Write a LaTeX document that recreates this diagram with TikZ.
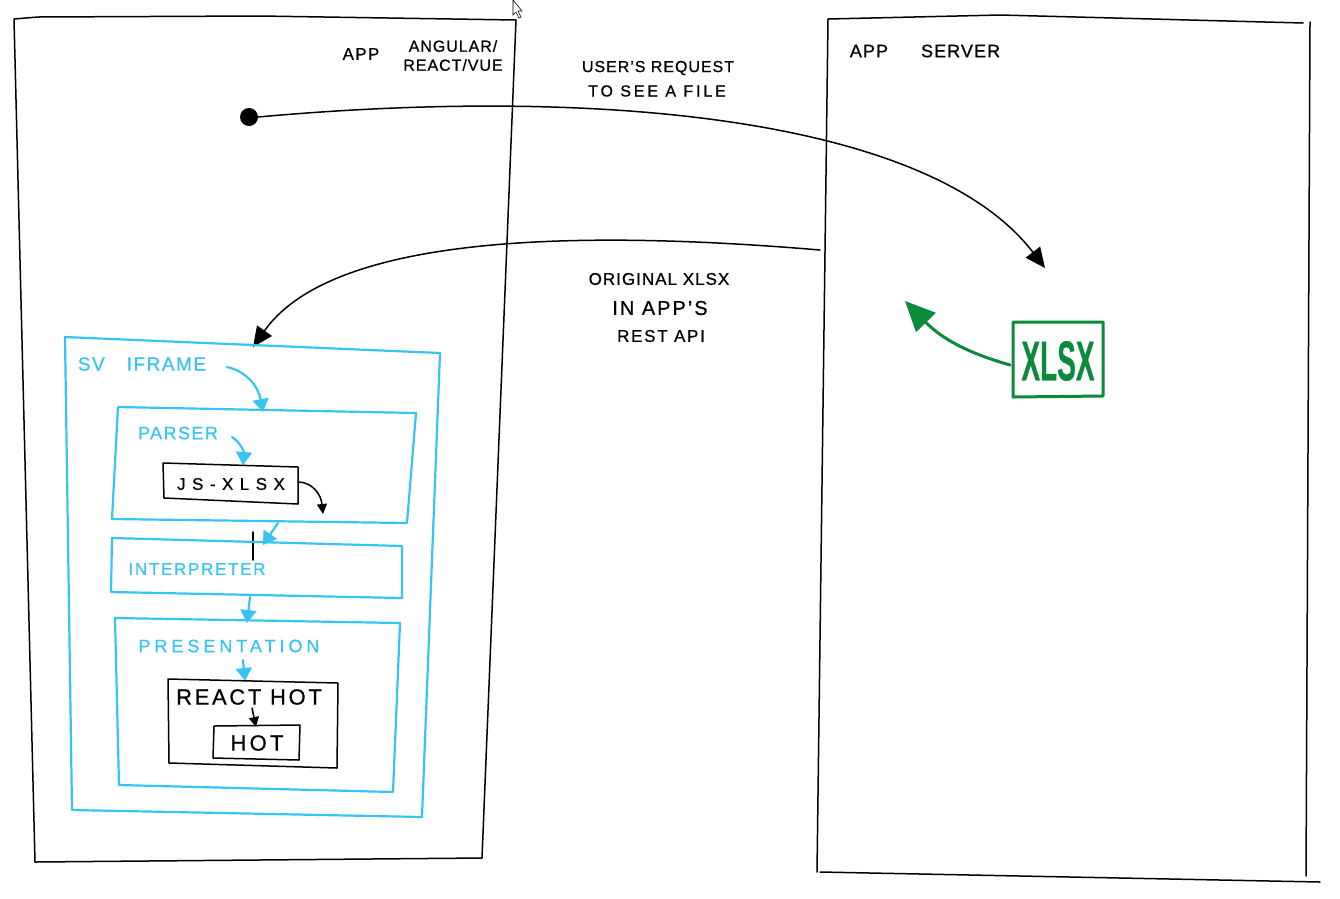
\documentclass[tikz,border=0pt]{standalone}
\usepackage{fontspec}
\setmainfont{Liberation Sans}[FakeBold=0.7]
\usepackage{graphicx}
\usetikzlibrary{arrows.meta}
\definecolor{sv}{HTML}{38C4F2}
\definecolor{xg}{HTML}{0B8A3B}
\newcommand\LS[1]{\addfontfeatures{LetterSpace=#1}}
\begin{document}
\begin{tikzpicture}[x=1pt,y=-1pt,
  blk/.style={line width=1.5pt,line cap=round,line join=round},
  blu/.style={draw=sv,line width=2.2pt,line cap=round,line join=round},
  grn/.style={draw=xg,line width=3pt,line cap=round,line join=round},
  txt/.style={inner sep=0pt},
  btxt/.style={inner sep=0pt,text=sv},
  bigtip/.style={-{Triangle[length=20pt,width=18pt]}},
  bltip/.style={-{Triangle[length=13pt,width=16pt]}},
  smtip/.style={-{Triangle[length=10pt,width=10pt]}},
  gtip/.style={-{Triangle[length=30pt,width=27pt]}}]
\useasboundingbox (0,0) rectangle (1340,898);

% big containers
\draw[blk] (14,19) -- (38,17) -- (260,16) -- (516,20) -- (482,858) -- (35,862) -- cycle;
\draw[blk] (828,19) -- (1000,15) -- (1303,23);
\draw[blk] (1310,22) -- (1306,876);
\draw[blk] (828,19) -- (817,872);
\draw[blk] (820,872) -- (1320,882);

% mouse cursor
\draw[line width=0.6pt,fill=white] (513,0) -- (513,15) -- (516,12) -- (519,18) -- (521,17) -- (518,11) -- (522,11) -- cycle;

% texts (black)
\node[txt,font=\fontsize{17}{18}\selectfont\LS{8}] (app) at (361,54) {APP};
\node[txt,font=\fontsize{16}{16}\selectfont\LS{6}] (ang) at (453,46) {ANGULAR/};
\node[txt,font=\fontsize{16}{16}\selectfont\LS{6}] (rv) at (453,65) {REACT/VUE};
\node[txt,font=\fontsize{16}{16}\selectfont\LS{6}] (req1) at (658,68) {USER'S REQUEST};
\node[txt,font=\fontsize{16}{16}\selectfont\LS{18}] (req2) at (657,91) {TO SEE A FILE};
\node[txt,font=\fontsize{18}{18}\selectfont\LS{6}] (srvt) at (925,51) {APP\hspace{33pt}SERVER};
\node[txt,font=\fontsize{17}{18}\selectfont\LS{6}] (orig1) at (659,279) {ORIGINAL XLSX};
\node[txt,font=\fontsize{20}{22}\selectfont\LS{10}] (orig2) at (660,308) {IN APP'S};
\node[txt,font=\fontsize{17}{18}\selectfont\LS{10}] (orig3) at (661,336) {REST API};

% request dot and curve
\node[circle,fill=black,minimum size=18pt,inner sep=0pt] (dot) at (249,117) {};
\coordinate (reqtip) at (1045,268);
\draw[blk,bigtip] (dot.east) .. controls (600,86) and (930,118) .. (reqtip);

% response curve
\coordinate (srvL) at (820,250);
\coordinate (svtop) at (253,347);
\draw[blk,bigtip] (srvL) .. controls (560,228) and (330,238) .. (svtop);

% SV iframe
\draw[blu] (65,337) -- (440,353) -- (422,817) -- (72,810) -- cycle;
\node[btxt,font=\fontsize{19}{20}\selectfont\LS{8}] (sv) at (142,364) {SV\hspace{22pt}IFRAME};
\coordinate (svA) at (227,367);
\coordinate (parsTop) at (263,412);
\draw[blu,bltip] (svA) .. controls (245,371) and (258,385) .. (parsTop);

% parser
\draw[blu] (118,407) -- (416,413) -- (407,523) -- (112,519) -- cycle;
\node[btxt,font=\fontsize{18}{18}\selectfont\LS{8}] (pars) at (178,433) {PARSER};
\coordinate (parsA) at (232,437);
\coordinate (jsTop) at (243,465);
\draw[blu,bltip] (parsA) .. controls (241,443) and (244,452) .. (jsTop);

% js-xlsx
\draw[blk] (163,463) -- (298,467) -- (298,504) -- (164,498) -- cycle;
\node[txt,font=\fontsize{17}{18}\selectfont\LS{38}] (js) at (231,484) {JS-XLSX};
\coordinate (jsR) at (298,482);
\coordinate (jsOut) at (323,514);
\draw[blk,smtip] (jsR) .. controls (312,482) and (321,494) .. (jsOut);

% parser -> interpreter
\coordinate (pB) at (278,523);
\coordinate (iT) at (263,545);
\draw[blu,bltip] (pB) -- (iT);
\coordinate (tk1) at (253,532);
\coordinate (tk2) at (253,560);
\draw[blk] (tk1) -- (tk2);

% interpreter
\draw[blu] (112,538) -- (402,546) -- (402,598) -- (111,592) -- cycle;
\node[btxt,font=\fontsize{17}{18}\selectfont\LS{10}] (interp) at (197,569) {INTERPRETER};
\coordinate (iB) at (250,597);
\coordinate (prT) at (247,623);
\draw[blu,bltip] (iB) -- (prT);

% presentation
\draw[blu] (115,618) -- (400,623) -- (393,792) -- (119,785) -- cycle;
\node[btxt,font=\fontsize{18}{18}\selectfont\LS{22}] (pres) at (229,646) {PRESENTATION};
\coordinate (prA) at (243,660);
\coordinate (rhT) at (245,681);
\draw[blu,bltip] (prA) -- (rhT);

% react hot
\draw[blk] (168,679) -- (338,683) -- (337,768) -- (169,763) -- cycle;
\node[txt,font=\fontsize{22}{24}\selectfont\LS{12}] (rh) at (249,697) {REACT HOT};
\coordinate (rhA) at (252,708);
\coordinate (hotT) at (256,727);
\draw[blk,smtip] (rhA) -- (hotT);
\draw[blk] (214,726) -- (300,725) -- (299,760) -- (213,758) -- cycle;
\node[txt,font=\fontsize{22}{24}\selectfont\LS{15}] (hot) at (257,743) {HOT};

% XLSX on server
\draw[grn] (1013,322) -- (1103,322) -- (1103,396) -- (1013,397) -- cycle;
\node[inner sep=0pt,text=xg] (xl) at (1058,361) {\scalebox{0.5}[1]{\fontsize{56}{56}\selectfont\bfseries XLSX}};
\coordinate (xlL) at (1010,365);
\coordinate (xlTip) at (905,301);
\draw[grn,gtip] (xlL) .. controls (975,355) and (945,342) .. (xlTip);
\end{tikzpicture}
\end{document}
